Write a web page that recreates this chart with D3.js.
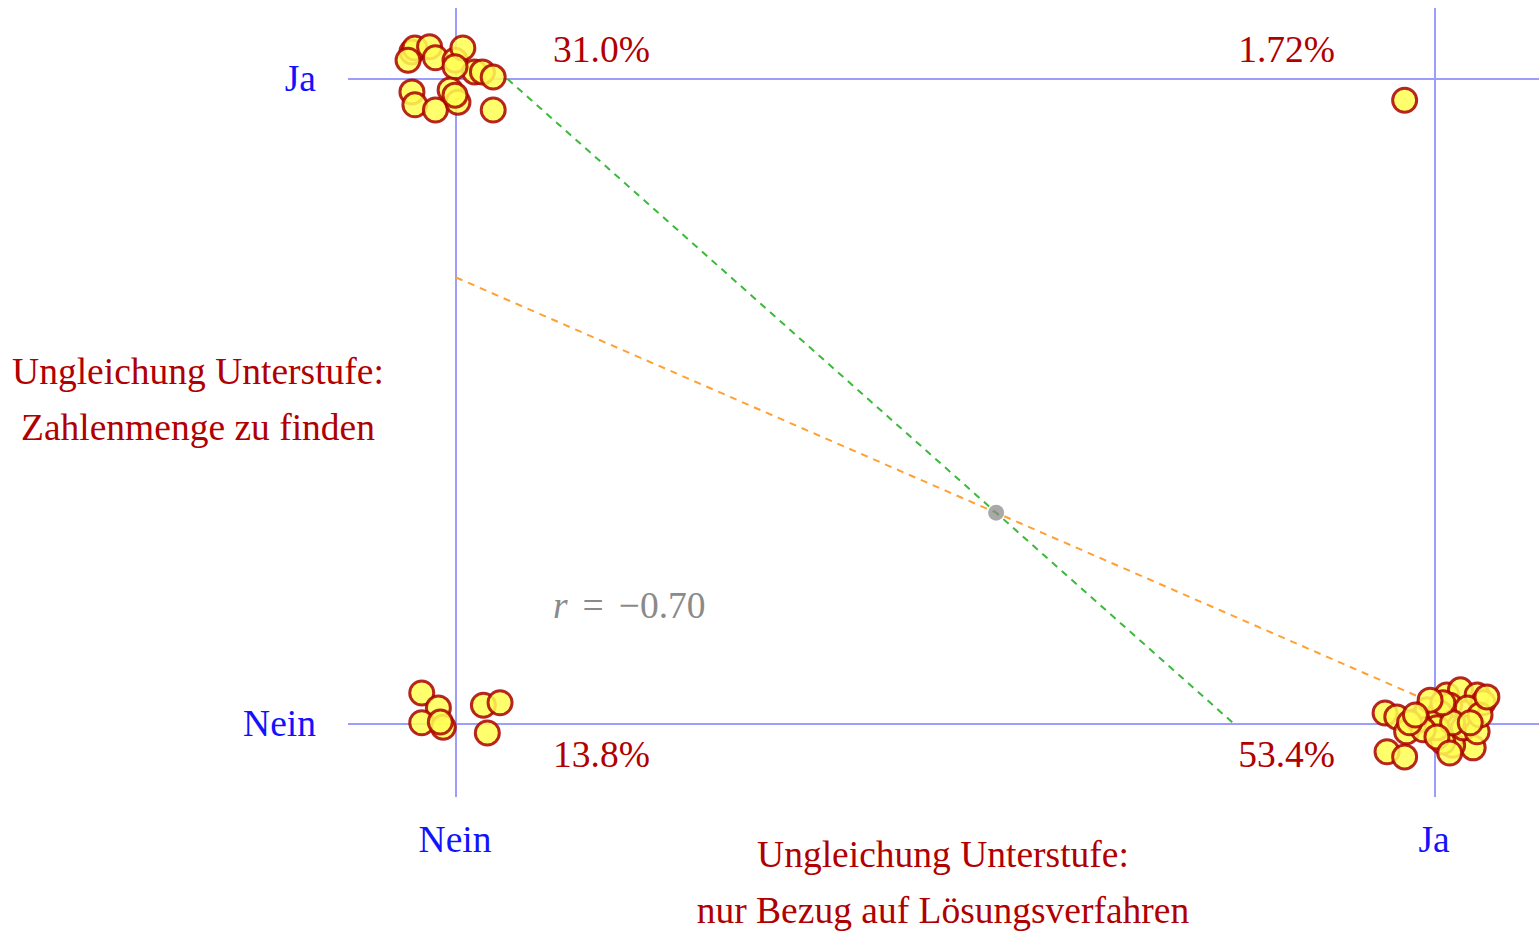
<!DOCTYPE html>
<html>
<head>
<meta charset="utf-8">
<script src="https://cdn.jsdelivr.net/npm/d3@7"></script>
<style>
  html, body { margin: 0; padding: 0; background: #fff; }
  svg { display: block; font-family: "Liberation Serif", "Times New Roman", serif; }
</style>
</head>
<body>
<svg id="chart" width="1539" height="931"></svg>
<script>
// Answer categories on both axes (0 = Nein, 1 = Ja)
const categories = ["Nein", "Ja"];

// Axis titles
const xTitle = ["Ungleichung Unterstufe:", "nur Bezug auf Lösungsverfahren"];
const yTitle = ["Ungleichung Unterstufe:", "Zahlenmenge zu finden"];

// Each cell of the 2x2 table: its x answer, y answer, and the jittered offsets
// of every respondent in it (offsets in answer units, so counts = lengths)
const cellX = [0, 1, 0, 1];
const cellY = [1, 1, 0, 0];

const jitterNeinJa = [
  [-0.045, 0.042], [-0.042, 0.048], [-0.027, 0.050], [-0.021, 0.033],
  [-0.049, 0.029], [-0.001, 0.029], [0.007, 0.048], [0.019, 0.011],
  [0.027, 0.011], [0.038, 0.003], [-0.001, 0.019], [-0.045, -0.020],
  [-0.042, -0.040], [-0.021, -0.048], [-0.006, -0.017], [0.002, -0.036],
  [0.038, -0.048], [-0.001, -0.025]
];
const jitterJaJa = [
  [-0.031, -0.033]
];
const jitterNeinNein = [
  [-0.035, 0.048], [-0.018, 0.025], [-0.035, 0.002], [-0.013, -0.005],
  [-0.016, 0.003], [0.028, 0.029], [0.045, 0.033], [0.032, -0.014]
];
const jitterJaNein = [
  [-0.051, 0.017], [-0.039, 0.011], [-0.029, -0.012], [-0.049, -0.043],
  [-0.031, -0.051], [-0.017, 0.006], [-0.008, 0.022], [0.012, 0.045],
  [0.026, 0.053], [0.043, 0.045], [0.049, 0.033], [0.015, 0.029],
  [0.033, 0.025], [0.039, -0.037], [0.018, -0.033], [0.008, -0.028],
  [0.029, -0.006], [0.043, -0.012], [0.005, 0.017], [0.002, -0.006],
  [-0.012, -0.009], [-0.026, 0.002], [0.046, 0.014], [0.018, 0.002],
  [0.008, 0.033], [-0.005, 0.037], [0.036, 0.002], [-0.020, 0.014],
  [0.053, 0.042], [0.002, -0.020], [0.015, -0.045]
];
const cellJitter = [jitterNeinJa, jitterJaJa, jitterNeinNein, jitterJaNein];

// Build respondent list
const points = [];
cellJitter.forEach((arr, i) => {
  arr.forEach(([dx, dy]) => {
    points.push({ ax: cellX[i], ay: cellY[i], x: cellX[i] + dx, y: cellY[i] + dy });
  });
});
const n = points.length;

// Summary statistics
const meanX = d3.mean(points, d => d.ax);
const meanY = d3.mean(points, d => d.ay);
const sxy = d3.sum(points, d => (d.ax - meanX) * (d.ay - meanY));
const sxx = d3.sum(points, d => (d.ax - meanX) ** 2);
const syy = d3.sum(points, d => (d.ay - meanY) ** 2);
const r = sxy / Math.sqrt(sxx * syy);
const slopeYX = sxy / sxx;   // y on x
const slopeXY = sxy / syy;   // x on y

const svg = d3.select("#chart");
const x = d3.scaleLinear().domain([0, 1]).range([456, 1435]);
const y = d3.scaleLinear().domain([0, 1]).range([724, 79]);

const gridColor = "#9d9dfb";
const labelBlue = "#1212ff";
const darkRed = "#b00000";
const fontSize = 37.5;

// Category grid lines
svg.append("g").selectAll("line").data(categories).join("line")
  .attr("x1", (d, i) => x(i)).attr("x2", (d, i) => x(i))
  .attr("y1", 8).attr("y2", 797)
  .attr("stroke", gridColor).attr("stroke-width", 2);
svg.append("g").selectAll("line").data(categories).join("line")
  .attr("x1", 348).attr("x2", 1539)
  .attr("y1", (d, i) => y(i)).attr("y2", (d, i) => y(i))
  .attr("stroke", gridColor).attr("stroke-width", 2);

// Regression lines
const yOnX = xv => meanY + slopeYX * (xv - meanX);
const xOnY = yv => meanX + slopeXY * (yv - meanY);
svg.append("line")
  .attr("x1", x(0)).attr("y1", y(yOnX(0)))
  .attr("x2", x(1)).attr("y2", y(yOnX(1)))
  .attr("stroke", "#ffa033").attr("stroke-width", 2)
  .attr("stroke-dasharray", "7,6");
svg.append("line")
  .attr("x1", x(xOnY(1))).attr("y1", y(1))
  .attr("x2", x(xOnY(0))).attr("y2", y(0))
  .attr("stroke", "#3cb83c").attr("stroke-width", 2)
  .attr("stroke-dasharray", "7,6");

// Respondents
svg.append("g").selectAll("circle").data(points).join("circle")
  .attr("cx", d => x(d.x)).attr("cy", d => y(d.y))
  .attr("r", 12)
  .attr("fill", "#ffff55").attr("fill-opacity", 0.85)
  .attr("stroke", "#aa0000").attr("stroke-opacity", 0.85)
  .attr("stroke-width", 3);

// Centroid
svg.append("circle")
  .attr("cx", x(meanX)).attr("cy", y(meanY)).attr("r", 8)
  .attr("fill", "#8c8c8c").attr("fill-opacity", 0.75);

// Tick labels
svg.append("g").selectAll("text").data(categories).join("text")
  .attr("x", 316).attr("y", (d, i) => y(i) + 12)
  .attr("text-anchor", "end")
  .attr("font-size", fontSize).attr("fill", labelBlue)
  .text(d => d);
svg.append("g").selectAll("text").data(categories).join("text")
  .attr("x", (d, i) => x(i) - 1).attr("y", 852)
  .attr("text-anchor", "middle")
  .attr("font-size", fontSize).attr("fill", labelBlue)
  .text(d => d);

// Cell percentages
const fmt = d3.format(".3r");
svg.append("g").selectAll("text").data(cellJitter).join("text")
  .attr("x", (d, i) => cellX[i] === 0 ? x(0) + 97 : x(1) - 100)
  .attr("y", (d, i) => cellY[i] === 1 ? y(1) - 17 : y(0) + 43)
  .attr("text-anchor", (d, i) => cellX[i] === 0 ? "start" : "end")
  .attr("font-size", fontSize).attr("fill", darkRed)
  .text(d => fmt(d.length / n * 100) + "%");

// Correlation coefficient
const rText = svg.append("text")
  .attr("x", 553).attr("y", 618)
  .attr("font-size", fontSize).attr("fill", "#8a8a8a");
rText.append("tspan").attr("font-style", "italic").text("r");
rText.append("tspan").attr("dx", 15).text("=");
rText.append("tspan").attr("dx", 15)
  .text(d3.format(".2f")(r).replace("-", "\u2212"));

// Axis titles
svg.append("g").selectAll("text").data(yTitle).join("text")
  .attr("x", 198).attr("y", (d, i) => 384 + i * 56)
  .attr("text-anchor", "middle")
  .attr("font-size", fontSize).attr("fill", darkRed)
  .text(d => d);
svg.append("g").selectAll("text").data(xTitle).join("text")
  .attr("x", 943).attr("y", (d, i) => 867 + i * 56)
  .attr("text-anchor", "middle")
  .attr("font-size", fontSize).attr("fill", darkRed)
  .text(d => d);
</script>
</body>
</html>
